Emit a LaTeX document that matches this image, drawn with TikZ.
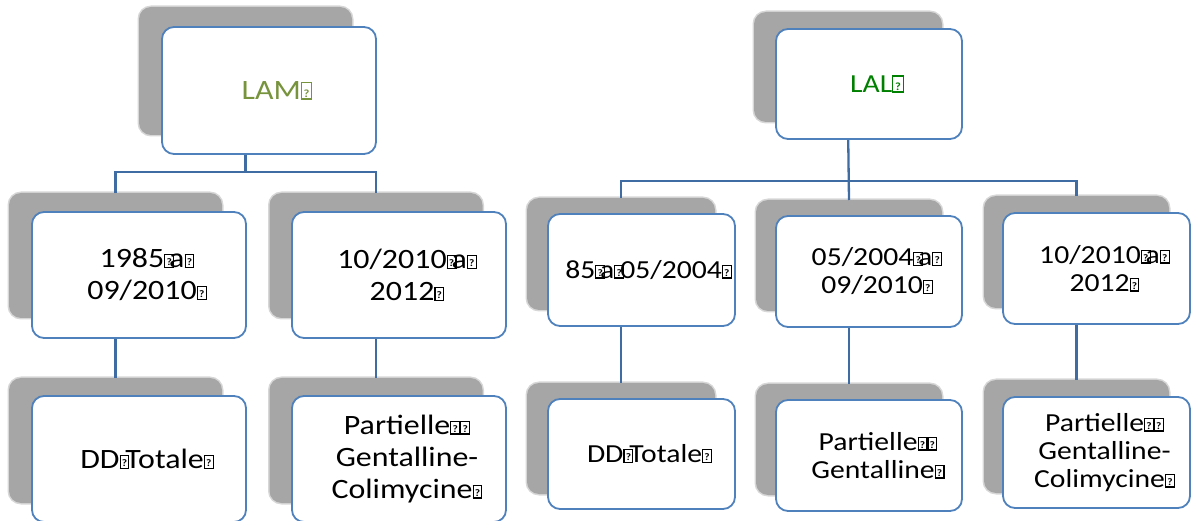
\documentclass[tikz,border=0pt]{standalone}
\usepackage{fontspec}
\setmainfont{Carlito}
\newfontfamily\widefont[FakeStretch=1.14]{Carlito}
\definecolor{bordc}{HTML}{4F81BD}
\definecolor{connc}{HTML}{3F6CA3}
\definecolor{shadc}{HTML}{A6A6A6}
\definecolor{lamc}{HTML}{77933C}
\definecolor{lalc}{HTML}{008000}
\newcommand\qb{{\setlength\fboxsep{1.2pt}\setlength\fboxrule{1.1pt}\raisebox{2.3pt}{\fbox{\rule{0pt}{9pt}\fontsize{10}{10}\selectfont\bfseries ?}}}}
\newcommand\qbroot{{\setlength\fboxsep{1.2pt}\setlength\fboxrule{1.1pt}\raisebox{2.3pt}{\fbox{\rule{0pt}{12.5pt}\fontsize{11}{11}\selectfont\bfseries\makebox[7pt]{?}}}}}
\tikzset{
  shd/.style={fill=shadc, draw=shadc, line width=3pt, draw opacity=0.45, rounded corners=12pt, inner sep=0pt, outer sep=0pt},
  bx/.style={fill=white, draw=bordc, line width=1.8pt, rounded corners=12pt, inner sep=0pt, outer sep=0pt},
  lamtxt/.style={align=center, text=black, inner sep=0pt, font=\widefont\fontsize{28}{32}\selectfont},
  laltxt/.style={align=center, text=black, inner sep=0pt, font=\widefont\fontsize{26}{28}\selectfont},
  conn/.style={draw=connc, line width=2.3pt}
}
\begin{document}
\begin{tikzpicture}[x=1pt,y=-1pt]
\useasboundingbox (0,0) rectangle (1192,521);
% ---------- LAM shadows ----------
\node[shd, minimum width=213pt, minimum height=128pt] (sA)  at (245.5,71) {};
\node[shd, minimum width=213pt, minimum height=125pt] (sA1) at (115.5,255.5) {};
\node[shd, minimum width=213pt, minimum height=125pt] (sA2) at (376,255.5) {};
\node[shd, minimum width=213pt, minimum height=125pt] (tA1) at (115.5,440.5) {};
\node[shd, minimum width=213pt, minimum height=125pt] (tA2) at (376,440.5) {};
% ---------- LAL shadows ----------
\node[shd, minimum width=188pt, minimum height=110pt] (sB)  at (848,67) {};
\node[shd, minimum width=188pt, minimum height=112pt] (sB1) at (621,254) {};
\node[shd, minimum width=186pt, minimum height=111pt] (sB2) at (849,255.5) {};
\node[shd, minimum width=185pt, minimum height=112pt] (sB3) at (1076.5,252) {};
\node[shd, minimum width=188pt, minimum height=111pt] (tB1) at (621,438.5) {};
\node[shd, minimum width=186pt, minimum height=111pt] (tB2) at (849,439.5) {};
\node[shd, minimum width=185pt, minimum height=113pt] (tB3) at (1076.5,436.5) {};
% ---------- connectors ----------
\coordinate (jA) at (sA.south |- 0,172);
\coordinate (jB) at (sB.south |- 0,181);
\draw[conn] (sA.south) -- (jA);
\draw[conn] (jA) -| (sA1.north);
\draw[conn] (jA) -| (sA2.north);
\draw[conn] (sA1.south) -- (tA1.north);
\draw[conn] (sA2.south) -- (tA2.north);
\draw[conn] (sB.south) -- (sB2.north);
\draw[conn] (jB) -| (sB1.north);
\draw[conn] (jB) -| (sB3.north);
\draw[conn] (sB1.south) -- (tB1.north);
\draw[conn] (sB2.south) -- (tB2.north);
\draw[conn] (sB3.south) -- (tB3.north);
% ---------- LAM boxes ----------
\node[bx, minimum width=214pt, minimum height=127pt] (bA)  at (269,90.5) {};
\node[bx, minimum width=214pt, minimum height=126pt] (bA1) at (139,275) {};
\node[bx, minimum width=214pt, minimum height=126pt] (bA2) at (399,275) {};
\node[bx, minimum width=214pt, minimum height=126pt] (cA1) at (139,459) {};
\node[bx, minimum width=214pt, minimum height=126pt] (cA2) at (399,459) {};
% ---------- LAL boxes ----------
\node[bx, minimum width=186pt, minimum height=110pt] (bB)  at (869,84) {};
\node[bx, minimum width=187pt, minimum height=112pt] (bB1) at (641.5,270) {};
\node[bx, minimum width=186pt, minimum height=111pt] (bB2) at (869,271.5) {};
\node[bx, minimum width=187pt, minimum height=111pt] (bB3) at (1096.5,268.5) {};
\node[bx, minimum width=187pt, minimum height=110pt] (cB1) at (641.5,454) {};
\node[bx, minimum width=186pt, minimum height=111pt] (cB2) at (869,455.5) {};
\node[bx, minimum width=187pt, minimum height=111pt] (cB3) at (1096.5,452.5) {};
% ---------- texts ----------
\node[lamtxt, text=lamc] (xA)  at ([xshift=8pt]bA.center)  {LAM\qbroot};
\node[lamtxt] (xA1) at ([xshift=8pt]bA1.center) {1985\qb\kern-5pt a\qb\\09/2010\qb};
\node[lamtxt] (xA2) at ([xshift=8pt]bA2.center) {10/2010\qb\kern-5pt a\qb\\2012\qb};
\node[lamtxt] (yA1) at ([xshift=8pt]cA1.center) {DD\qb\kern-4pt Totale\qb};
\node[lamtxt] (yA2) at ([xshift=8pt]cA2.center) {Partielle\qb\qb\\Gentalline-\\Colimycine\qb};
\node[laltxt, text=lalc] (xB)  at ([xshift=8pt]bB.center)  {LAL\qbroot};
\node[laltxt] (xB1) at ([xshift=7pt]bB1.center) {85\qb\kern-5pt a\qb\kern-4pt 05/2004\qb};
\node[laltxt] (xB2) at ([xshift=8pt]bB2.center) {05/2004\qb\kern-5pt a\qb\\09/2010\qb};
\node[laltxt] (xB3) at ([xshift=8pt]bB3.center) {10/2010\qb\kern-5pt a\qb\\2012\qb};
\node[laltxt] (yB1) at ([xshift=8pt]cB1.center) {DD\qb\kern-4pt Totale\qb};
\node[laltxt] (yB2) at ([xshift=9pt]cB2.center) {Partielle\qb\qb\\Gentalline\qb};
\node[laltxt] (yB3) at ([xshift=8pt]cB3.center) {Partielle\qb\qb\\Gentalline-\\Colimycine\qb};
\end{tikzpicture}
\end{document}
